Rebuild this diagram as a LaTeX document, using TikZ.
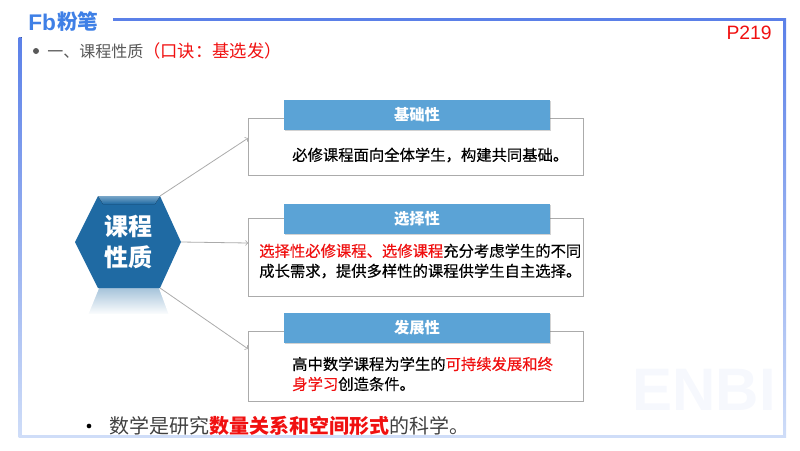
\documentclass[tikz,border=0pt]{standalone}
\usepackage{fontspec}
\setmainfont{Noto Sans CJK SC}
\newfontfamily\latinfont{Liberation Sans}
\newfontfamily\bodyfont[FakeBold=0.35]{Noto Sans CJK SC}
\usetikzlibrary{calc}
\usetikzlibrary{shadows}
\definecolor{framecol}{HTML}{5B80E8}
\definecolor{framelow}{HTML}{CFDDF8}
\definecolor{logocol}{HTML}{3F80E6}
\definecolor{headcol}{HTML}{5BA3D6}
\definecolor{hexcol}{HTML}{1F6AA3}
\definecolor{linecol}{HTML}{ABABAB}
\definecolor{redcol}{HTML}{F01010}
\definecolor{markcol}{HTML}{F6F8FD}
\newcommand{\RED}[1]{\textcolor{redcol}{#1}}
\tikzset{
    framebar/.style={top color=framecol,bottom color=framelow,draw=none},
    headbox/.style={fill=headcol,minimum width=199.5pt,minimum height=22.5pt,inner sep=0pt,
        text=white,font=\fontsize{11.5}{14}\selectfont\bfseries,
        drop shadow={shadow xshift=0.6pt,shadow yshift=-1pt,opacity=0.35}},
    bodybox/.style={draw=linecol,line width=0.6pt,fill=white,minimum width=251pt,inner sep=0pt},
    bodytext/.style={align=left,anchor=west,inner sep=0pt,text=black,font=\bodyfont\fontsize{11.5}{15}\selectfont},
    linkarrow/.style={draw=linecol,line width=0.6pt,->},
}
\begin{document}
\begin{tikzpicture}[x=0.75pt,y=-0.75pt]
    \useasboundingbox (0,0) rectangle (800,450);
    % watermark and frame
    \node[text=markcol,anchor=east,inner sep=0pt,font=\latinfont\fontsize{45}{45}\selectfont\bfseries] (mark) at (776,390) {ENBI};
    \fill[framecol] (113,18) rectangle (786,21);
    \fill[framebar] (18.5,37) rectangle (21.5,437);
    \fill[framebar] (783,18) rectangle (786,437);
    \fill[framelow] (18.5,434.5) rectangle (786,437.5);
    % logo
    \node[text=logocol,inner sep=0pt,anchor=west,font=\latinfont\fontsize{17}{17}\selectfont\bfseries] (fb) at (28,22) {Fb};
    \node[text=logocol,inner sep=0pt,anchor=west,font=\fontsize{15.5}{15.5}\selectfont\bfseries] (logo) at (57,22) {粉笔};
    \node[text=redcol,inner sep=0pt,anchor=east,font=\latinfont\fontsize{14.5}{15}\selectfont] (page) at (772,33) {P219};
    % title
    \node[circle,fill=black!65,inner sep=0pt,minimum size=4.5pt] (dot) at (36,51) {};
    \node[inner sep=0pt,text=black!65,font=\fontsize{12}{14}\selectfont,anchor=west] (title) at (47,51) {一、课程性质\RED{\fontsize{13}{14}\selectfont （口诀：基选发）}};
    % hexagon
    \path (75,242) coordinate (L);
    \path (98,196) coordinate (TL);
    \path (160,196) coordinate (TR);
    \path (181,242) coordinate (R);
    \path (160,288) coordinate (BR);
    \path (98,288) coordinate (BL);
    \fill[top color=hexcol!40,middle color=hexcol!8,bottom color=white,draw=none] (BL) -- (BR) -- (170,315) -- (87,315) -- cycle;
    \draw[white,line width=1.5pt] (BR) -- (170,315) -- (87,315) -- (BL);
    \fill[hexcol] (L) -- (TL) -- (TR) -- (R) -- (BR) -- (BL) -- cycle;
    \fill[top color=hexcol!60,bottom color=hexcol,draw=none] (TL) -- (TR) -- (155,204) -- (103,204) -- cycle;
    \node[text=white,align=center,inner sep=0pt,font=\fontsize{18}{23}\selectfont\bfseries] (hexa) at (128,242) {课程\\性质};
    % boxes
    \node[bodybox,minimum height=42.75pt] (boxa) at (416,146.5) {};
    \node[bodybox,minimum height=58.5pt] (boxb) at (416,257) {};
    \node[bodybox,minimum height=52.5pt] (boxc) at (416,366) {};
    \node[headbox] (heada) at (417,115) {基础性};
    \node[headbox] (headb) at (417,218.5) {选择性};
    \node[headbox] (headc) at (417,328) {发展性};
    \node[bodytext] (texta) at (292,155) {必修课程面向全体学生，构建共同基础。};
    \node[bodytext] (textb) at (259,261) {\RED{选择性必修课程、选修课程}充分考虑学生的不同\\成长需求，提供多样性的课程供学生自主选择。};
    \node[bodytext] (textc) at (292,374) {高中数学课程为学生的\RED{可持续发展和终}\\\RED{身学习}创造条件。};
    % arrows
    \coordinate (ina) at ($(boxa.west)+(0,-8.5)$);
    \coordinate (inb) at ($(boxb.west)+(0,-14)$);
    \coordinate (inc) at ($(boxc.west)+(0,-17)$);
    \draw[linkarrow] (TR) -- (ina);
    \draw[linkarrow] (R) -- (inb);
    \draw[linkarrow] (BR) -- (inc);
    % bottom line
    \node[circle,fill=black,inner sep=0pt,minimum size=3.5pt] (dotb) at (89,426) {};
    \node[inner sep=0pt,anchor=west,text=black!75,font=\fontsize{15}{18}\selectfont] (foot) at (109,426) {数学是研究\RED{\bfseries 数量关系和空间形式}的科学。};
\end{tikzpicture}
\end{document}
